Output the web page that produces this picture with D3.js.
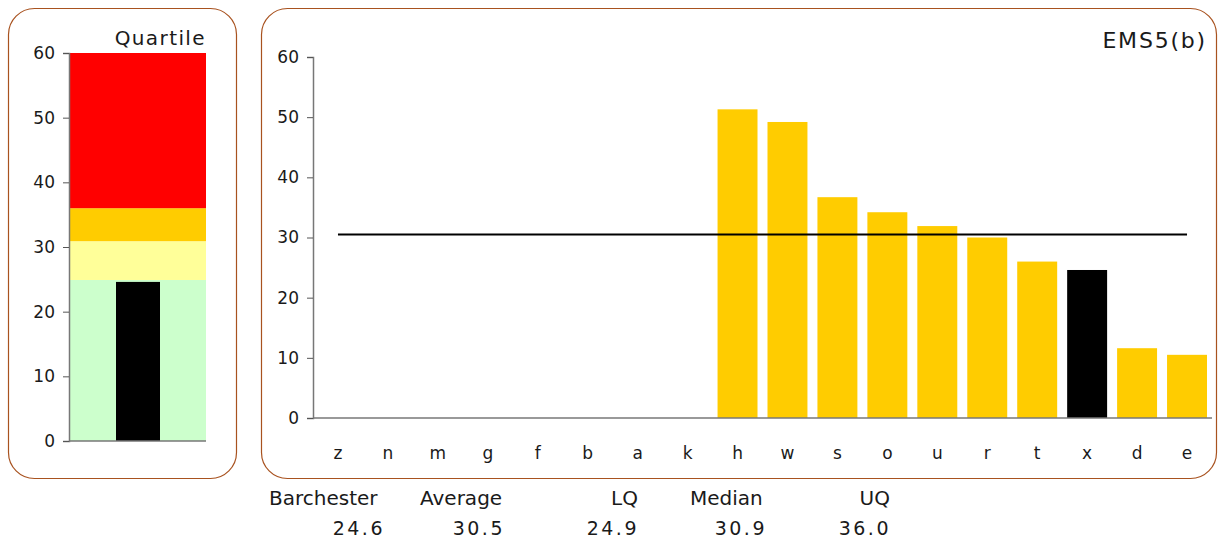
<!DOCTYPE html>
<html>
<head>
<meta charset="utf-8">
<script src="https://cdn.jsdelivr.net/npm/d3@7"></script>
<style>
  body { margin: 0; background: #fff; }
  text { font-family: "DejaVu Sans", "Noto Sans", sans-serif; fill: #1a1a1a; }
</style>
</head>
<body>
<script>
//data
var categories = ['z','n','m','g','f','b','a','k','h','w','s','o','u','r','t','x','d','e'];
var values = [0,0,0,0,0,0,0,0,51.3,49.2,36.7,34.2,31.9,30.0,26.0,24.6,11.6,10.5];
var highlight = 'x';
var average = 30.5;
var quartiles = [0, 24.9, 30.9, 36.0, 60]; // band edges
var quartileColors = ['#ccffcc','#ffff99','#ffcc00','#ff0000'];
var ownValue = 24.6;
var yTicks = [0,10,20,30,40,50,60];
var statLabels = ['Barchester','Average','LQ','Median','UQ'];
var statValues = ['24.6','30.5','24.9','30.9','36.0'];

var svg = d3.select('body').append('svg')
  .attr('width', 1218).attr('height', 541);

var border = '#a8521f';

//panels
svg.append('rect').attr('x', 8.5).attr('y', 8.5).attr('width', 228).attr('height', 470)
  .attr('rx', 26).attr('fill', 'none').attr('stroke', border).attr('stroke-width', 1.2);
svg.append('rect').attr('x', 261.5).attr('y', 8.5).attr('width', 955).attr('height', 470)
  .attr('rx', 26).attr('fill', 'none').attr('stroke', border).attr('stroke-width', 1.2);

//left: quartile chart
var yL = d3.scaleLinear().domain([0, 60]).range([441, 53]);
var left = svg.append('g');
left.selectAll('rect.band')
  .data(d3.range(quartileColors.length))
  .enter().append('rect')
  .attr('class','band')
  .attr('x', 69).attr('width', 137)
  .attr('y', function(i) { return yL(quartiles[i+1]); })
  .attr('height', function(i) { return yL(quartiles[i]) - yL(quartiles[i+1]); })
  .attr('fill', function(i) { return quartileColors[i]; });
left.append('rect')
  .attr('x', 116).attr('width', 44)
  .attr('y', yL(ownValue)).attr('height', yL(0) - yL(ownValue))
  .attr('fill', '#000');
var axL = left.append('g').attr('transform', 'translate(69,0)')
  .call(d3.axisLeft(yL).tickValues(yTicks).tickSize(6).tickPadding(8));
axL.select('.domain').attr('stroke', '#777').attr('stroke-width', 1.5);
axL.selectAll('line').attr('stroke', '#555');
axL.selectAll('text').style('font-size', '17px').style('font-family', '"DejaVu Sans"');
left.append('line').attr('x1', 69).attr('x2', 206).attr('y1', yL(0)).attr('y2', yL(0))
  .attr('stroke', '#777').attr('stroke-width', 1.5);
left.append('text').attr('x', 206).attr('y', 45).attr('text-anchor', 'end')
  .style('font-size', '20px').style('letter-spacing', '1.4px').text('Quartile');

//right: bar chart
var x = d3.scaleBand().domain(categories).range([313, 1212]).paddingInner(0.2).paddingOuter(0.1);
var y = d3.scaleLinear().domain([0, 60]).range([418, 57]);
var main = svg.append('g');
main.selectAll('rect.bar')
  .data(categories)
  .enter().append('rect')
  .attr('class','bar')
  .attr('x', function(d) { return x(d); })
  .attr('width', x.bandwidth())
  .attr('y', function(d, i) { return y(values[i]); })
  .attr('height', function(d, i) { return y(0) - y(values[i]); })
  .attr('fill', function(d) { return d == highlight ? '#000' : '#ffcc00'; });

var ax = main.append('g').attr('transform', 'translate(313,0)')
  .call(d3.axisLeft(y).tickValues(yTicks).tickSize(6).tickPadding(8));
ax.select('.domain').attr('stroke', '#777').attr('stroke-width', 1.5);
ax.selectAll('line').attr('stroke', '#555');
ax.selectAll('text').style('font-size', '17px').style('font-family', '"DejaVu Sans"');
main.append('line').attr('x1', 313).attr('x2', 1212).attr('y1', y(0)).attr('y2', y(0))
  .attr('stroke', '#777').attr('stroke-width', 1.5);

var axB = main.append('g').attr('transform', 'translate(0,' + y(0) + ')')
  .call(d3.axisBottom(x).tickSize(0).tickPadding(29));
axB.select('.domain').remove();
axB.selectAll('text').style('font-size', '17px').style('font-family', '"DejaVu Sans"');

//average line
main.append('line')
  .attr('x1', x(categories[0]) + x.bandwidth()/2)
  .attr('x2', x(categories[categories.length-1]) + x.bandwidth()/2)
  .attr('y1', y(average)).attr('y2', y(average))
  .attr('stroke', '#000').attr('stroke-width', 2);

main.append('text').attr('x', 1207).attr('y', 48).attr('text-anchor', 'end')
  .style('font-size', '22px').style('letter-spacing', '1.8px').text('EMS5(b)');

//stats
var labelX = [269, 420, 638, 690, 890];
var labelAnchor = ['start','start','end','start','end'];
var valueX = [385, 505, 639, 767, 891];
svg.selectAll('text.slabel')
  .data(statLabels).enter().append('text')
  .attr('class','slabel')
  .attr('x', function(d, i) { return labelX[i]; })
  .attr('y', 505)
  .attr('text-anchor', function(d, i) { return labelAnchor[i]; })
  .style('font-size', '20px')
  .text(function(d) { return d; });
svg.selectAll('text.svalue')
  .data(statValues).enter().append('text')
  .attr('class','svalue')
  .attr('x', function(d, i) { return valueX[i]; })
  .attr('y', 535)
  .attr('text-anchor', 'end')
  .style('font-size', '19px').style('letter-spacing', '2.5px')
  .text(function(d) { return d; });
</script>
</body>
</html>
